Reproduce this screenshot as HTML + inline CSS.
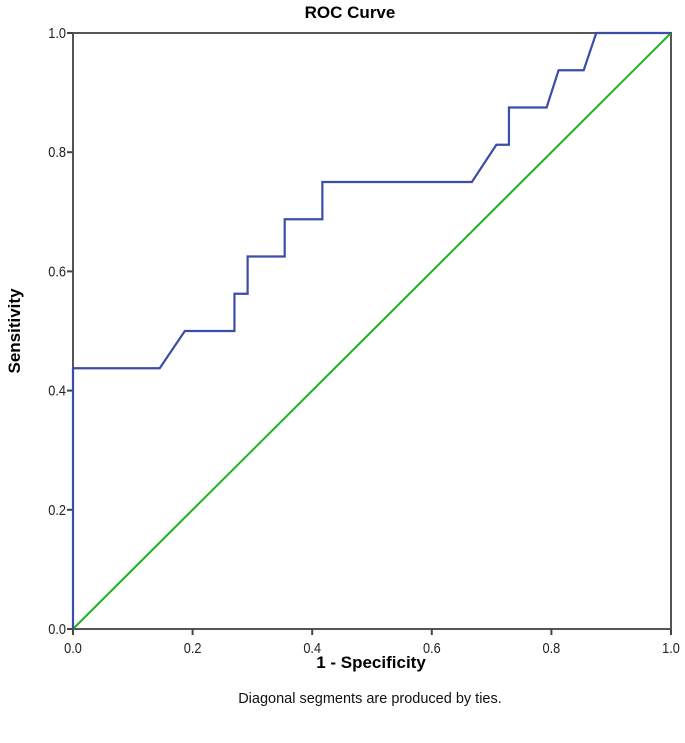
<!DOCTYPE html>
<html><head><meta charset="utf-8"><style>
html,body{margin:0;padding:0;background:#fff;}
svg{display:block;font-family:"Liberation Sans",sans-serif;}
</style></head><body>
<svg id="chart" width="685" height="743">
<text x="350" y="18" text-anchor="middle" font-size="17" font-weight="bold">ROC Curve</text>
<g id="plot"></g>
<text x="371" y="668" text-anchor="middle" font-size="17" font-weight="bold">1 - Specificity</text>
<text transform="translate(20,331) rotate(-90)" text-anchor="middle" font-size="17" font-weight="bold">Sensitivity</text>
<text x="370" y="703" text-anchor="middle" font-size="14.5" fill="#111">Diagonal segments are produced by ties.</text>
</svg>
<script>
const fpr=[0,0,0.145,0.187,0.27,0.27,0.292,0.292,0.354,0.354,0.417,0.417,0.667,0.708,0.729,0.729,0.792,0.812,0.854,0.875,1];
const tpr=[0,0.4375,0.4375,0.5,0.5,0.5625,0.5625,0.625,0.625,0.6875,0.6875,0.75,0.75,0.8125,0.8125,0.875,0.875,0.9375,0.9375,1,1];
const refX=[0,1];
const refY=[0,1];
const ticks=[0,0.2,0.4,0.6,0.8,1.0];
const tickLabels=["0.0","0.2","0.4","0.6","0.8","1.0"];
const X0=73,X1=671,Y0=629,Y1=33;
const sx=v=>X0+v*(X1-X0), sy=v=>Y0-v*(Y0-Y1);
const NS="http://www.w3.org/2000/svg";
const g=document.getElementById('plot');
function mk(t,a){const e=document.createElementNS(NS,t);for(const k in a)e.setAttribute(k,a[k]);g.appendChild(e);return e;}
const frame=mk('rect',{x:X0,y:Y1,width:X1-X0,height:Y0-Y1,fill:'none',stroke:'#555','stroke-width':2});


ticks.forEach((t,i)=>{
 const tx=mk('line',{x1:sx(t),x2:sx(t),y1:Y0,y2:Y0+6,stroke:'#444','stroke-width':2});
 
 
 const lx=mk('text',{x:0,y:0,'text-anchor':'middle','font-size':15,fill:'#222',transform:'translate('+sx(t)+','+(Y0+24)+') scale(0.85,1)'});
 lx.textContent=tickLabels[i];
 
 
 const ty=mk('line',{x1:X0-6,x2:X0,y1:sy(t),y2:sy(t),stroke:'#444','stroke-width':2});
 
 
 const ly=mk('text',{x:0,y:0,'text-anchor':'end','font-size':15,fill:'#222',transform:'translate('+(X0-7)+','+(sy(t)+5)+') scale(0.85,1)'});
 ly.textContent=tickLabels[i];
 
 
});
const ref=mk('polyline',{points:refX.map((v,i)=>sx(v)+','+sy(refY[i])).join(' '),fill:'none',stroke:'#1db31d','stroke-width':2});


const roc=mk('polyline',{points:fpr.map((v,i)=>sx(v)+','+sy(tpr[i])).join(' '),fill:'none',stroke:'#3a4ea8','stroke-width':2.2});


</script>
</body></html>
